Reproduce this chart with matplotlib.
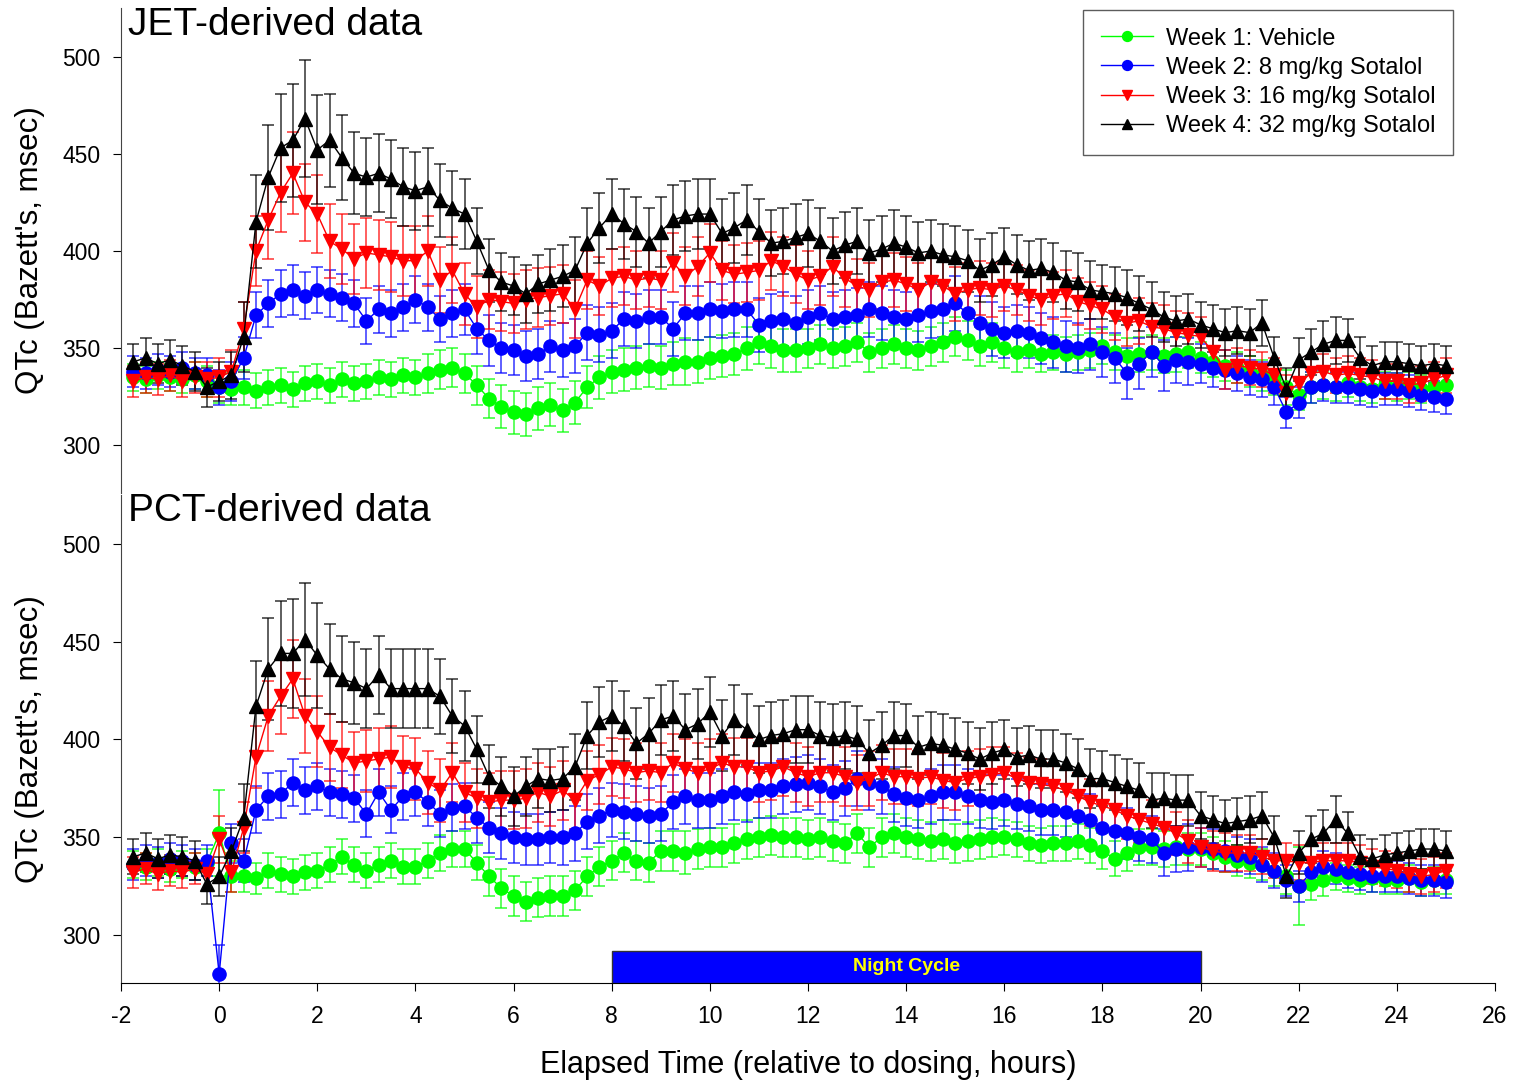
import numpy as np
import matplotlib
matplotlib.use("Agg")
from matplotlib import pyplot as plt
from matplotlib.patches import Rectangle

plt.rcParams['font.family'] = ['Liberation Sans', 'DejaVu Sans']
plt.rcParams['axes.unicode_minus'] = False

# elapsed time, hours relative to dosing (15-min bins)
hours = np.arange(-1.75, 25.01, 0.25)

labels = ["Week 1: Vehicle", "Week 2: 8 mg/kg Sotalol",
          "Week 3: 16 mg/kg Sotalol", "Week 4: 32 mg/kg Sotalol"]

# ---- JET-derived QTc (msec) ----
jet_wk1 = [335, 334, 336, 335, 334, 336, 333,
           330, 329, 330, 328, 330, 331, 329, 332, 333, 331, 334, 332,
           333, 335, 334, 336, 335, 337, 339, 340, 337, 331, 324, 320,
           317, 316, 319, 321, 318, 322, 330, 335, 338, 339, 340, 341,
           340, 342, 343, 343, 345, 346, 347, 350, 353, 351, 349, 349,
           350, 352, 350, 351, 353, 348, 350, 352, 350, 349, 351, 353,
           356, 354, 351, 353, 350, 348, 349, 347, 348, 347, 348, 349,
           351, 348, 346, 347, 348, 346, 347, 348, 345, 343, 341, 340,
           338, 336, 334, 330, 326, 330, 331, 330, 332, 330, 329, 331,
           330, 331, 329, 330, 331]
jet_wk2 = [338, 337, 339, 338, 340, 337, 336,
           330, 333, 345, 367, 373, 378, 380, 377, 380, 378, 376, 373,
           364, 370, 368, 371, 375, 371, 365, 368, 370, 360, 354, 350,
           349, 346, 347, 351, 349, 351, 358, 357, 359, 365, 364, 366,
           366, 360, 368, 368, 370, 369, 370, 370, 362, 364, 365, 363,
           366, 368, 365, 366, 367, 370, 368, 366, 365, 367, 369, 370,
           373, 368, 363, 360, 358, 359, 358, 355, 353, 351, 350, 352,
           348, 345, 337, 342, 348, 341, 344, 343, 342, 340, 339, 337,
           335, 334, 330, 317, 322, 330, 331, 330, 330, 329, 328, 329,
           329, 328, 326, 325, 324]
jet_wk3 = [333, 335, 334, 336, 333, 335, 334,
           335, 338, 360, 400, 416, 430, 440, 425, 419, 405, 401, 396,
           399, 398, 397, 395, 395, 400, 385, 390, 378, 371, 375, 374,
           373, 375, 376, 377, 378, 370, 385, 382, 386, 387, 385, 386,
           385, 394, 387, 392, 399, 390, 388, 389, 390, 395, 392, 388,
           385, 387, 392, 386, 382, 380, 384, 385, 383, 380, 384, 382,
           378, 380, 381, 380, 382, 380, 377, 375, 377, 378, 374, 372,
           370, 366, 363, 364, 361, 360, 358, 357, 356, 348, 339, 341,
           340, 339, 336, 327, 332, 337, 338, 336, 337, 336, 335, 333,
           333, 331, 332, 334, 336]
jet_wk4 = [343, 345, 342, 344, 341, 338, 330,
           333, 336, 356, 415, 438, 453, 457, 468, 452, 457, 448, 440,
           438, 440, 437, 433, 431, 433, 426, 422, 419, 405, 390, 384,
           382, 378, 383, 385, 387, 390, 404, 412, 419, 414, 410, 404,
           410, 416, 418, 419, 419, 409, 412, 416, 410, 404, 405, 407,
           409, 405, 400, 403, 405, 399, 401, 404, 402, 399, 400, 398,
           397, 395, 390, 393, 397, 393, 390, 391, 389, 385, 384, 380,
           379, 378, 376, 373, 370, 366, 364, 365, 362, 360, 358, 359,
           358, 363, 345, 329, 344, 348, 352, 354, 354, 345, 341, 343,
           343, 342, 341, 342, 341]

jet_wk1_sem = [7, 7, 7, 7, 7, 7, 8,
               8, 8, 9, 9, 9, 9, 9, 9, 9, 9, 9, 9,
               9, 9, 9, 9, 9, 10, 10, 10, 10, 10, 10, 11,
               11, 11, 11, 11, 11, 11, 11, 11, 11, 11, 11, 11,
               11, 11, 12, 11, 11, 11, 11, 11, 11, 11, 11, 11,
               10, 10, 10, 10, 10, 10, 10, 10, 10, 10, 10, 10,
               10, 10, 10, 10, 10, 10, 9, 9, 9, 9, 9, 9,
               9, 9, 9, 9, 9, 9, 9, 8, 8, 8, 8, 8,
               8, 8, 8, 9, 8, 8, 7, 7, 7, 7, 7, 7,
               7, 7, 7, 7, 7]
jet_wk2_sem = [8, 8, 8, 8, 8, 8, 9,
               9, 10, 11, 12, 12, 12, 13, 12, 12, 12, 12, 12,
               12, 12, 12, 12, 12, 12, 12, 12, 13, 13, 13, 13,
               13, 13, 13, 13, 14, 14, 14, 14, 14, 14, 14, 14,
               14, 14, 14, 14, 14, 14, 14, 14, 14, 14, 14, 14,
               14, 14, 14, 14, 14, 14, 14, 14, 14, 14, 14, 14,
               14, 14, 14, 14, 13, 13, 13, 13, 13, 13, 13, 13,
               13, 13, 13, 13, 13, 13, 12, 12, 10, 10, 10, 9,
               9, 9, 9, 8, 8, 8, 8, 8, 8, 8, 8, 8,
               8, 8, 8, 8, 8]
jet_wk3_sem = [8, 8, 8, 8, 8, 8, 9,
               10, 11, 14, 18, 20, 20, 21, 20, 20, 19, 18, 18,
               18, 18, 18, 18, 18, 18, 17, 17, 16, 16, 15, 15,
               15, 15, 15, 15, 15, 15, 15, 15, 15, 15, 15, 15,
               15, 15, 15, 15, 15, 15, 15, 15, 15, 15, 15, 15,
               15, 15, 15, 15, 14, 14, 14, 14, 14, 14, 14, 14,
               14, 14, 14, 14, 13, 13, 13, 13, 12, 12, 12, 12,
               12, 12, 12, 12, 12, 12, 11, 11, 10, 10, 10, 9,
               9, 9, 9, 9, 9, 9, 9, 9, 9, 9, 9, 9,
               9, 9, 9, 9, 9]
jet_wk4_sem = [9, 10, 10, 10, 10, 10, 10,
               10, 12, 18, 24, 27, 28, 29, 30, 28, 24, 22, 21,
               20, 20, 20, 20, 20, 20, 19, 19, 18, 17, 16, 15,
               15, 15, 15, 16, 16, 17, 18, 18, 18, 18, 18, 18,
               18, 18, 18, 18, 18, 18, 18, 18, 17, 17, 17, 17,
               17, 17, 17, 17, 17, 17, 17, 17, 16, 16, 16, 16,
               16, 16, 16, 16, 15, 15, 15, 15, 15, 15, 15, 15,
               14, 14, 14, 14, 14, 13, 13, 13, 12, 12, 12, 12,
               12, 12, 11, 11, 11, 12, 12, 12, 11, 11, 10, 10,
               10, 10, 10, 10, 10]

# ---- PCT-derived QTc (msec) ----
pct_wk1 = [336, 335, 337, 334, 336, 335, 337,
           352, 330, 330, 329, 333, 331, 330, 332, 333, 336, 340, 336,
           333, 336, 338, 335, 335, 338, 342, 344, 344, 337, 330, 324,
           320, 317, 319, 320, 320, 323, 330, 335, 338, 342, 338, 337,
           343, 343, 342, 344, 345, 345, 347, 349, 350, 351, 350, 350,
           349, 350, 348, 347, 352, 345, 350, 352, 350, 349, 348, 349,
           347, 348, 349, 350, 350, 349, 347, 346, 347, 347, 348, 346,
           343, 339, 342, 345, 345, 344, 345, 344, 344, 342, 340, 338,
           337, 336, 333, 330, 325, 326, 328, 330, 329, 328, 329, 328,
           328, 329, 327, 328, 328]
pct_wk2 = [336, 338, 337, 339, 338, 336, 338,
           280, 347, 338, 364, 371, 372, 378, 374, 376, 373, 372, 370,
           362, 373, 364, 371, 373, 368, 362, 365, 366, 360, 355, 352,
           350, 349, 349, 350, 350, 352, 358, 361, 364, 363, 362, 361,
           362, 368, 371, 369, 369, 371, 373, 372, 374, 374, 376, 377,
           378, 376, 373, 375, 380, 378, 376, 372, 370, 369, 371, 373,
           373, 371, 369, 368, 369, 367, 366, 364, 364, 363, 361, 359,
           355, 353, 352, 350, 349, 342, 344, 345, 345, 344, 343, 341,
           340, 336, 333, 328, 325, 332, 335, 334, 332, 331, 330, 330,
           330, 329, 328, 328, 327]
pct_wk3 = [332, 334, 331, 333, 332, 334, 331,
           349, 332, 355, 391, 412, 422, 431, 412, 404, 396, 392, 388,
           389, 390, 391, 386, 385, 378, 374, 383, 373, 370, 368, 369,
           369, 370, 373, 371, 374, 369, 379, 382, 386, 385, 383, 384,
           383, 388, 385, 383, 385, 388, 386, 386, 383, 384, 386, 383,
           381, 383, 383, 381, 378, 380, 383, 381, 381, 380, 381, 379,
           378, 380, 381, 382, 383, 380, 378, 377, 376, 374, 371, 368,
           366, 364, 361, 359, 357, 355, 352, 348, 345, 343, 342, 342,
           342, 340, 338, 338, 337, 337, 338, 338, 338, 337, 335, 334,
           333, 331, 330, 331, 333]
pct_wk4 = [340, 342, 339, 341, 340, 338, 326,
           330, 343, 360, 417, 436, 444, 444, 451, 443, 436, 431, 429,
           426, 433, 426, 426, 426, 426, 422, 412, 407, 395, 381, 376,
           371, 376, 380, 379, 380, 386, 402, 409, 412, 407, 398, 403,
           410, 412, 405, 408, 414, 402, 410, 405, 400, 402, 403, 405,
           405, 402, 401, 402, 400, 393, 397, 402, 402, 396, 398, 397,
           395, 393, 390, 393, 395, 391, 392, 390, 390, 388, 385, 380,
           380, 378, 376, 374, 369, 370, 369, 369, 361, 359, 357, 358,
           359, 361, 350, 330, 342, 349, 352, 359, 352, 340, 339, 341,
           342, 343, 344, 344, 343]

pct_wk1_sem = [7, 7, 7, 7, 7, 7, 7,
               22, 8, 8, 8, 9, 9, 9, 9, 9, 9, 9, 9,
               9, 9, 9, 9, 9, 9, 9, 9, 9, 9, 10, 10,
               10, 10, 10, 10, 10, 10, 10, 10, 10, 10, 10, 10,
               10, 10, 11, 10, 10, 10, 10, 10, 10, 10, 10, 10,
               10, 10, 10, 10, 10, 10, 10, 10, 10, 10, 10, 10,
               10, 10, 10, 10, 9, 9, 9, 9, 9, 9, 9, 9,
               9, 9, 9, 9, 9, 9, 9, 8, 8, 8, 8, 8,
               8, 8, 8, 9, 20, 8, 8, 7, 7, 7, 7, 7,
               7, 7, 7, 7, 7]
pct_wk2_sem = [8, 8, 8, 8, 8, 8, 8,
               15, 10, 11, 12, 12, 12, 12, 12, 12, 12, 12, 12,
               12, 12, 12, 12, 12, 12, 12, 12, 12, 13, 13, 13,
               13, 13, 13, 13, 14, 14, 14, 14, 14, 14, 14, 14,
               14, 14, 14, 14, 14, 14, 14, 14, 14, 14, 14, 14,
               14, 14, 14, 14, 14, 14, 14, 14, 14, 14, 14, 14,
               14, 14, 14, 14, 13, 13, 13, 13, 13, 13, 13, 13,
               13, 13, 13, 12, 12, 12, 12, 12, 10, 10, 10, 9,
               9, 9, 9, 8, 8, 8, 8, 8, 8, 8, 8, 8,
               8, 8, 8, 8, 8]
pct_wk3_sem = [8, 8, 8, 8, 8, 8, 8,
               12, 10, 13, 16, 18, 19, 20, 19, 18, 17, 17, 16,
               16, 16, 16, 16, 16, 16, 16, 15, 15, 15, 15, 15,
               15, 15, 15, 15, 15, 15, 15, 15, 15, 15, 15, 15,
               15, 15, 15, 15, 15, 15, 15, 15, 15, 15, 15, 15,
               15, 15, 15, 15, 14, 14, 14, 14, 14, 14, 14, 14,
               14, 14, 14, 14, 13, 13, 13, 13, 12, 12, 12, 12,
               12, 12, 12, 12, 12, 12, 11, 11, 10, 10, 10, 9,
               9, 9, 9, 9, 9, 9, 9, 9, 9, 9, 9, 9,
               9, 9, 9, 9, 9]
pct_wk4_sem = [9, 10, 10, 10, 10, 10, 10,
               10, 12, 17, 23, 26, 27, 28, 29, 27, 23, 22, 21,
               20, 20, 20, 20, 20, 20, 19, 19, 18, 17, 16, 15,
               15, 15, 15, 16, 16, 17, 17, 18, 18, 18, 18, 18,
               18, 18, 18, 18, 18, 18, 18, 18, 17, 17, 17, 17,
               17, 17, 17, 17, 17, 17, 17, 17, 16, 16, 16, 16,
               16, 16, 16, 16, 15, 15, 15, 15, 15, 15, 15, 15,
               14, 14, 14, 14, 14, 13, 13, 13, 12, 12, 12, 12,
               12, 12, 11, 11, 11, 12, 12, 12, 11, 11, 10, 10,
               10, 10, 10, 10, 10]

colors = ["#00ff00", "#0000ff", "#ff0000", "#000000"]
markers = ["o", "o", "v", "^"]
sizes = [9.5, 9.5, 10, 10]

night_start, night_end = 8, 20

fig = plt.figure(figsize=(15.17, 10.8), dpi=100)
ax_top = fig.add_axes([0.0798, 0.5435, 0.9057, 0.4491])
ax_bot = fig.add_axes([0.0798, 0.0898, 0.9057, 0.4519])


def draw_panel(ax, series, sems, title):
    handles = []
    for vals, err, c, m, ms, lab in zip(series, sems, colors, markers, sizes, labels):
        ax.errorbar(hours, vals, yerr=err, fmt="none", ecolor=c, elinewidth=1.1,
                    capsize=4.5, capthick=1.1, alpha=0.8, zorder=2)
        h, = ax.plot(hours, vals, color=c, marker=m, markersize=ms, linewidth=1,
                     markeredgecolor=c, label=lab, zorder=3)
        handles.append(h)
    ax.set_xlim(-2, 26)
    ax.set_ylim(275.5, 525)
    ax.set_yticks([300, 350, 400, 450, 500])
    ax.set_ylabel("QTc (Bazett's, msec)", fontsize=22.5, labelpad=12)
    ax.tick_params(axis="y", direction="out", length=6, labelsize=16.5, pad=9)
    for s in ["top", "right"]:
        ax.spines[s].set_visible(False)
    ax.spines["left"].set_color("#444444")
    ax.text(0.005, 1.003, title, transform=ax.transAxes, fontsize=28,
            ha="left", va="top")
    return handles


handles = draw_panel(ax_top, [jet_wk1, jet_wk2, jet_wk3, jet_wk4],
                     [jet_wk1_sem, jet_wk2_sem, jet_wk3_sem, jet_wk4_sem],
                     "JET-derived data")
ax_top.spines["bottom"].set_visible(False)
ax_top.set_xticks([])

draw_panel(ax_bot, [pct_wk1, pct_wk2, pct_wk3, pct_wk4],
           [pct_wk1_sem, pct_wk2_sem, pct_wk3_sem, pct_wk4_sem],
           "PCT-derived data")
ax_bot.set_xticks(np.arange(-2, 27, 2))
ax_bot.tick_params(axis="x", direction="out", length=6, labelsize=16.5, pad=10)
ax_bot.set_xlabel("Elapsed Time (relative to dosing, hours)", fontsize=22, labelpad=16)

# night cycle bar
ax_bot.add_patch(Rectangle((night_start, 275.5), night_end - night_start, 16.5,
                           facecolor="#0000ff", edgecolor="#333333", linewidth=1,
                           zorder=5))
ax_bot.text((night_start + night_end) / 2, 283.8, "Night Cycle", color="#ffff00",
            fontsize=14, fontweight="bold", ha="center", va="center", zorder=6)

leg = ax_top.legend(handles=handles, loc="upper right", bbox_to_anchor=(0.9694, 0.996),
                    fontsize=17, frameon=True, fancybox=False, borderpad=0.75,
                    handlelength=2.2, handletextpad=0.55, labelspacing=0.3,
                    markerscale=0.75, borderaxespad=0)
leg.get_frame().set_edgecolor("#333333")
leg.get_frame().set_linewidth(1)

plt.savefig("out.png", dpi=100)
plt.close()
